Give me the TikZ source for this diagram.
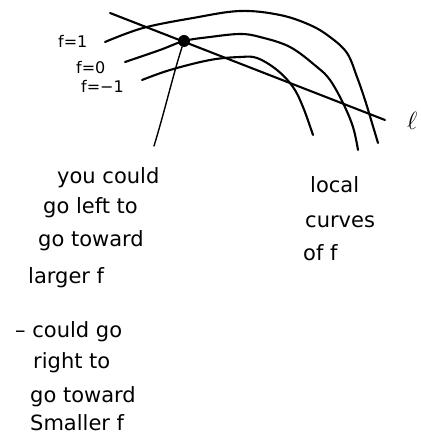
\documentclass[tikz,border=0pt]{standalone}
\usepackage{fontspec}
\setmainfont{DejaVu Sans}
\begin{document}
\begin{tikzpicture}[x=1pt,y=-1pt,
  curve/.style={line width=2.1pt, line cap=round, line join=round},
  leader/.style={line width=1.4pt, line cap=round},
  hand/.style={font=\fontsize{21}{24}\selectfont, anchor=base west, inner sep=0pt},
  lvl/.style={font=\fontsize{16}{18}\selectfont, anchor=base west, inner sep=0pt}]
\useasboundingbox (0,0) rectangle (420,446);
\clip (0,0) rectangle (420,446);
% level curves
\draw[curve] plot[smooth, tension=0.6] coordinates {(105,42) (143,28) (193,18) (240,11) (280,15) (310,25) (330,37) (347,53) (357,77) (365,100) (372,123) (378,143)};
\draw[curve] plot[smooth, tension=0.6] coordinates {(125,62) (160,50) (184,41) (210,37) (240,34) (260,37) (290,47) (317,67) (330,80) (343,103) (353,127) (358,150)};
\draw[curve] plot[smooth, tension=0.6] coordinates {(142,80) (170,70) (210,60) (240,57) (257,58) (277,70) (293,87) (303,107) (313,135)};
% line l
\coordinate (lA) at (110,13);
\coordinate (lB) at (385,120);
\draw[curve] (lA) -- (lB);
% point and leader
\node[circle, fill, inner sep=0pt, minimum size=12pt] (p) at (184,41) {};
\coordinate (q) at (154,146);
\draw[leader] (p) .. controls (173,75) and (165,110) .. (q);
% labels
\node[lvl] (f1) at (58,48) {f=1};
\node[lvl] (f0) at (76,74) {f=0};
\node[lvl] (fm1) at (81,93) {f=−1};
\node[anchor=base west, inner sep=0pt, font=\fontsize{34}{36}\selectfont] (ell) at (407,130) {$\ell$};
% left text
\node[hand] (t1) at (57,183) {you could};
\node[hand] (t2) at (43,213) {go left to};
\node[hand] (t3) at (38,246) {go toward};
\node[hand] (t4) at (28,283) {larger f};
\node[hand] (t5) at (15,337) {– could go};
\node[hand] (t6) at (33,368) {right to};
\node[hand] (t7) at (30,402) {go toward};
\node[hand] (t8) at (30,430) {Smaller f};
% right text
\node[hand] (r1) at (310,193) {local};
\node[hand] (r2) at (305,227) {curves};
\node[hand] (r3) at (303,260) {of f};
\end{tikzpicture}
\end{document}
